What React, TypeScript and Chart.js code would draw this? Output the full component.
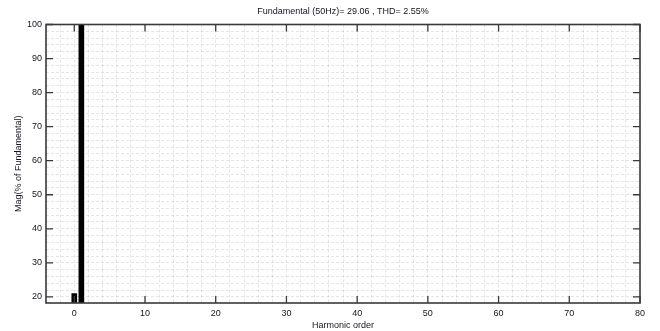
import React, { useEffect, useRef } from "react";
import { Chart, registerables } from "chart.js";

Chart.register(...registerables);

const harmonicOrders = [0, 1];
const magnitudes = [21, 100];
const xTickValues = [0, 10, 20, 30, 40, 50, 60, 70, 80];
const yTickValues = [20, 30, 40, 50, 60, 70, 80, 90, 100];
const xGridStep = 2;
const yGridStep = 2;
const titleText = "Fundamental (50Hz)= 29.06 , THD= 2.55%";
const xTitle = "Harmonic order";
const yTitle = "Mag(% of Fundamental)";

const FONT = "'Liberation Sans', Arial, sans-serif";
const TEXT = "#141420";

function gridTicks(scale: any, step: number) {
  const out: { value: number }[] = [];
  const start = Math.ceil(scale.min / step) * step;
  for (let v = start; v <= scale.max + 1e-9; v += step) {
    out.push({ value: Math.round(v * 1000) / 1000 });
  }
  scale.ticks = out;
}

const framePlugin = {
  id: "frameTicks",
  afterDatasetsDraw(chart: any) {
    const { ctx, chartArea, scales } = chart;
    const { left, right, top, bottom } = chartArea;
    ctx.save();
    ctx.strokeStyle = "#3a3a3a";
    ctx.lineWidth = 1.6;
    ctx.setLineDash([]);
    ctx.strokeRect(left, top, right - left, bottom - top);
    ctx.lineWidth = 1.3;
    const tl = 7;
    ctx.beginPath();
    for (const v of xTickValues) {
      const px = scales.x.getPixelForValue(v);
      ctx.moveTo(px, bottom);
      ctx.lineTo(px, bottom - tl);
      ctx.moveTo(px, top);
      ctx.lineTo(px, top + tl);
    }
    for (const v of yTickValues) {
      const py = scales.y.getPixelForValue(v);
      ctx.moveTo(left, py);
      ctx.lineTo(left + tl, py);
      ctx.moveTo(right, py);
      ctx.lineTo(right - tl, py);
    }
    ctx.stroke();
    ctx.restore();
  },
};

export default function App() {
  const ref = useRef<HTMLCanvasElement | null>(null);
  useEffect(() => {
    if (!ref.current) return;
    const chart = new Chart(ref.current, {
      type: "bar",
      data: {
        datasets: [
          {
            data: harmonicOrders.map((o, i) => ({ x: o, y: magnitudes[i] })),
            backgroundColor: "#000000",
            borderWidth: 0,
            barThickness: 5,
            grouped: false,
          } as any,
        ],
      },
      plugins: [framePlugin],
      options: {
        responsive: false,
        animation: false,
        events: [],
        layout: { padding: { left: 8, right: 20, top: 4, bottom: 0 } },
        plugins: {
          legend: { display: false },
          tooltip: { enabled: false },
          title: {
            display: true,
            text: titleText,
            color: TEXT,
            fullSize: false,
            font: { family: FONT, size: 9, weight: "normal" },
            padding: { top: 2, bottom: 7.7 },
          } as any,
        },
        scales: {
          x: {
            type: "linear",
            offset: false,
            min: -4,
            max: 80,
            afterFit: (s: any) => {
              s.height = 28;
            },
            afterBuildTicks: (s: any) => gridTicks(s, xGridStep),
            ticks: {
              autoSkip: false,
              maxRotation: 0,
              padding: 5,
              color: TEXT,
              font: { family: FONT, size: 9 },
              callback: (v: any) =>
                xTickValues.includes(Number(v)) ? String(v) : "",
            },
            grid: { color: "rgba(0,0,0,0.1)", drawTicks: false, offset: false },
            border: { display: false, dash: [3, 2] },
            title: {
              display: true,
              text: xTitle,
              color: TEXT,
              font: { family: FONT, size: 9 },
              padding: { top: 0, bottom: 0 },
            },
          },
          y: {
            type: "linear",
            min: 18.2,
            max: 100,
            afterFit: (s: any) => {
              s.width = 38;
            },
            afterBuildTicks: (s: any) => gridTicks(s, yGridStep),
            ticks: {
              autoSkip: false,
              padding: 4,
              color: TEXT,
              font: { family: FONT, size: 9 },
              callback: (v: any) =>
                yTickValues.includes(Number(v)) ? String(v) : "",
            },
            grid: { color: "rgba(0,0,0,0.1)", drawTicks: false },
            border: { display: false, dash: [3, 2] },
            title: {
              display: true,
              text: yTitle,
              color: TEXT,
              font: { family: FONT, size: 9 },
              padding: { top: 5, bottom: 0 },
            },
          },
        },
      },
    } as any);
    return () => chart.destroy();
  }, []);
  return (
    <div style={{ position: "absolute", left: 0, top: 0, width: 660, height: 331, background: "#fff" }}>
      <canvas ref={ref} width={660} height={331} />
    </div>
  );
}
